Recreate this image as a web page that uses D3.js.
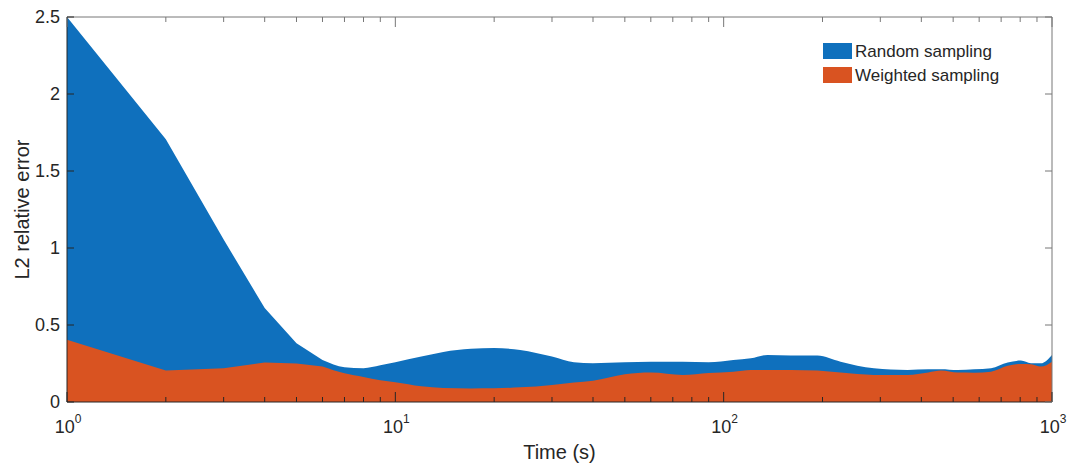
<!DOCTYPE html>
<html>
<head>
<meta charset="utf-8">
<script src="https://cdn.jsdelivr.net/npm/d3@7"></script>
<style>
  body { margin: 0; background: #fff; }
  svg { display: block; }
  text { font-family: "Liberation Sans", Arial, sans-serif; fill: #262626; }
</style>
</head>
<body>
<svg id="chart" width="1073" height="465"></svg>
<script>
// ---- data ----
const times = [1,2,3,4,5,6,7,8,9,10,12,14,17,20,24,30,35,40,50,60,75,90,107,121,136,160,193,227,287,363,420,459,516,580,652,733,804,863,925,1000];
const randomSampling = [2.5,1.706,1.055,0.61,0.382,0.273,0.226,0.219,0.238,0.258,0.295,0.325,0.345,0.35,0.338,0.295,0.258,0.252,0.258,0.262,0.262,0.258,0.273,0.284,0.306,0.302,0.302,0.262,0.219,0.208,0.212,0.213,0.208,0.212,0.219,0.256,0.269,0.252,0.252,0.306];
const weightedSampling = [0.404,0.204,0.219,0.256,0.25,0.23,0.186,0.163,0.142,0.128,0.102,0.091,0.088,0.089,0.095,0.111,0.127,0.138,0.18,0.191,0.176,0.188,0.197,0.208,0.208,0.208,0.204,0.191,0.176,0.176,0.192,0.204,0.191,0.19,0.197,0.235,0.247,0.245,0.23,0.262];
const seriesNames = ["Random sampling", "Weighted sampling"];
const seriesColors = ["#0f70bd", "#d95321"];
const yTicks = [0, 0.5, 1, 1.5, 2, 2.5];
const yTickLabels = ["0", "0.5", "1", "1.5", "2", "2.5"];
const xMajor = [1, 10, 100, 1000];
const xMajorExp = ["0", "1", "2", "3"];
const xLabel = "Time (s)";
const yLabel = "L2 relative error";
const linearUntil = 6; // early samples joined by straight segments

// ---- layout ----
const L = 67, R = 1052, T = 17, B = 402;
const svg = d3.select("#chart");
const x = d3.scaleLog().domain([1, 1000]).range([L, R]);
const y = d3.scaleLinear().domain([0, 2.5]).range([B, T]);

const series = [randomSampling, weightedSampling];
series.forEach((vals, i) => {
  const pts = times.map((t, j) => [x(t), y(vals[j])]);
  const split = times.indexOf(linearUntil);
  const early = pts.slice(0, split + 1);
  const late = pts.slice(split);
  const p1 = d3.line().curve(d3.curveLinear)(early);
  const p2 = d3.line().curve(d3.curveMonotoneX)(late).replace(/^M/, "L");
  const d = p1 + p2 + `L${x(1000)},${y(0)}L${x(1)},${y(0)}Z`;
  svg.append("path").attr("d", d).attr("fill", seriesColors[i]);
});

// minor ticks
const minor = [];
for (let dec = 1; dec < 1000; dec *= 10) for (let k = 2; k <= 9; k++) minor.push(dec * k);

const axisColor = "#262626";
const g = svg.append("g");
// box
g.append("line").attr("x1", L).attr("x2", R).attr("y1", B).attr("y2", B).attr("stroke", axisColor);
g.append("line").attr("x1", L).attr("x2", L).attr("y1", T).attr("y2", B).attr("stroke", axisColor);
g.append("line").attr("x1", L).attr("x2", R).attr("y1", T).attr("y2", T).attr("stroke", "#777");
g.append("line").attr("x1", R).attr("x2", R).attr("y1", T).attr("y2", B).attr("stroke", "#777");

// x ticks bottom & top
xMajor.forEach(v => {
  g.append("line").attr("x1", x(v)).attr("x2", x(v)).attr("y1", B).attr("y2", B - 10).attr("stroke", axisColor);
  g.append("line").attr("x1", x(v)).attr("x2", x(v)).attr("y1", T).attr("y2", T + 10).attr("stroke", "#777");
});
minor.forEach(v => {
  g.append("line").attr("x1", x(v)).attr("x2", x(v)).attr("y1", B).attr("y2", B - 5).attr("stroke", axisColor);
  g.append("line").attr("x1", x(v)).attr("x2", x(v)).attr("y1", T).attr("y2", T + 5).attr("stroke", "#777");
});
// y ticks left & right
yTicks.forEach(v => {
  g.append("line").attr("x1", L).attr("x2", L + 7).attr("y1", y(v)).attr("y2", y(v)).attr("stroke", axisColor);
  g.append("line").attr("x1", R).attr("x2", R - 7).attr("y1", y(v)).attr("y2", y(v)).attr("stroke", "#777");
});

// y tick labels
yTicks.forEach((v, i) => {
  g.append("text").attr("x", L - 7).attr("y", y(v)).attr("dy", "0.35em")
    .attr("text-anchor", "end").attr("font-size", 18).text(yTickLabels[i]);
});
// x tick labels
xMajor.forEach((v, i) => {
  const t = g.append("text").attr("x", x(v) + 1).attr("y", 433)
    .attr("text-anchor", "middle").attr("font-size", 18);
  t.append("tspan").text("10");
  t.append("tspan").attr("dy", -10).attr("font-size", 12).text(xMajorExp[i]);
});

// axis labels
svg.append("text").attr("x", (L + R) / 2).attr("y", 459).attr("text-anchor", "middle")
  .attr("font-size", 20).text(xLabel);
svg.append("text").attr("transform", `translate(29,${(T + B) / 2}) rotate(-90)`)
  .attr("text-anchor", "middle").attr("font-size", 20).text(yLabel);

// legend
const leg = svg.append("g");
seriesNames.forEach((name, i) => {
  const yy = 43 + i * 24;
  leg.append("rect").attr("x", 823).attr("y", yy).attr("width", 29).attr("height", 16)
    .attr("fill", seriesColors[i]);
  leg.append("text").attr("x", 855).attr("y", yy + 8).attr("dy", "0.35em")
    .attr("font-size", 17).text(name);
});
</script>
</body>
</html>
